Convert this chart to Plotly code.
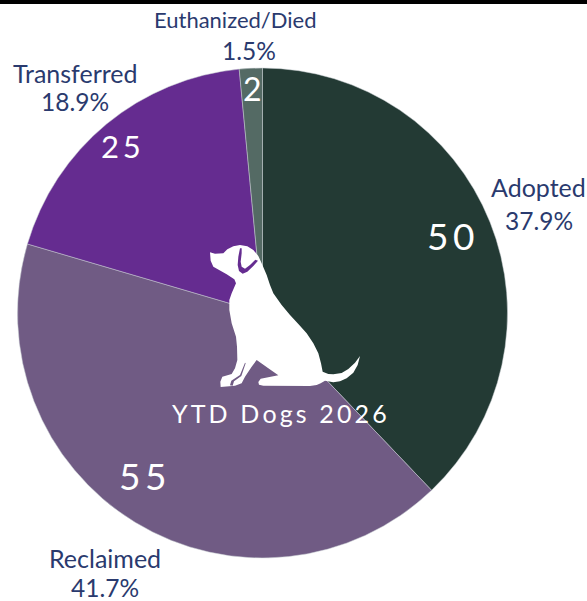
import plotly.graph_objects as go

W, H = 587, 601
categories = ["Adopted", "Reclaimed", "Transferred", "Euthanized/Died"]
values = [50, 55, 25, 2]
colors = ["#233a34", "#705b84", "#652c90", "#546a64"]
title = "YTD Dogs 2026"
TEXT = "#2a3a6e"
HAIR = "\u200a"

cx, cy, r = 262.5, 313, 245
total = sum(values)

fx = lambda x: x / W
fy = lambda y: 1 - y / H

dog = [(60,97),(75,101),(100,100),(112,88),(130,79),(150,75),(172,79),(190,90),(205,108),(215,130),(230,165),(240,195),(250,220),(275,255),(300,285),(325,312),(350,340),(370,370),(385,400),(393,430),(398,455),(415,462),(430,463),(455,459),(475,447),(495,428),(510,408),(503,435),(490,458),(470,475),(450,484),(430,487),(405,482),(392,490),(380,495),(360,498),(220,497),(207,494),(205,486),(212,476),(265,466),(235,445),(200,420),(185,440),(165,470),(155,490),(135,497),(92,501),(91,485),(97,470),(125,462),(135,445),(142,420),(141,380),(138,350),(125,310),(118,270),(118,240),(125,220),(138,190),(133,178),(110,163),(70,140),(62,122),(60,97)]
ear = [(150,85),(145,110),(143,135),(147,153),(158,161),(172,155),(190,138),(204,122),(196,119),(180,135),(165,146),(155,140),(152,125),(155,100),(155,85),(150,85)]
leg_gap = [(165,428),(150,465),(124,482),(120,496),(128,497),(132,484),(154,468),(167,430),(165,428)]

def path(pts):
    out = []
    for i, (x, y) in enumerate(pts):
        out.append(("M" if i == 0 else "L") + f"{fx(190 + x / 3):.5f},{fy(220 + y / 3):.5f}")
    return " ".join(out) + " Z"

fig = go.Figure(go.Pie(
    labels=categories, values=values, sort=False, direction="clockwise", rotation=0,
    marker=dict(colors=colors, line=dict(color="#c9ced2", width=0.5)),
    textinfo="none", hoverinfo="label+value+percent", showlegend=False,
    domain=dict(x=[fx(cx - r), fx(cx + r)], y=[fy(cy + r), fy(cy - r)]),
))

shapes = [
    dict(type="rect", xref="paper", yref="paper", x0=0, x1=1, y0=fy(4), y1=1,
         fillcolor="#000000", line_width=0),
    dict(type="path", xref="paper", yref="paper", path=path(dog), fillcolor="#ffffff", line_width=0),
    dict(type="path", xref="paper", yref="paper", path=path(ear), fillcolor="#652c90", line_width=0),
    dict(type="path", xref="paper", yref="paper", path=path(leg_gap), fillcolor="#705b84", line_width=0),
]

def ann(x, y, text, size, color, weight=400):
    return dict(x=fx(x), y=fy(y), xref="paper", yref="paper", text=text, showarrow=False,
                xanchor="center", yanchor="middle",
                font=dict(family="Lato, Carlito, sans-serif", size=size, color=color, weight=weight))

name_pos = [(538, 187), (105, 558), (75, 73), (235, 20)]
name_size = [25, 25, 25, 22]
pct_pos = [(539, 220), (105, 587), (75, 102), (249, 50)]
value_pos = [(451, 235), (143, 475), (121, 146), (252, 89)]
value_size = [37, 37, 31, 32]
value_gap = [2, 2, 2, 0]
annotations = []
for cat, v, np_, ns, pp, vp, s, g in zip(categories, values, name_pos, name_size, pct_pos, value_pos, value_size, value_gap):
    annotations.append(ann(*np_, cat, ns, TEXT))
    annotations.append(ann(*pp, f"{v / total * 100:.1f}%", 24.5, TEXT))
    annotations.append(ann(*vp, (HAIR * g).join(str(v)), s, "#ffffff"))
annotations.append(ann(279.5, 413, (HAIR * 2).join(title), 25, "#ffffff"))

fig.update_layout(width=W, height=H, margin=dict(l=0, r=0, t=0, b=0), paper_bgcolor="#ffffff",
                  shapes=shapes, annotations=annotations)
fig.write_html("out.html", config=dict(displayModeBar=False),
               post_script="document.body.style.margin='0';")
